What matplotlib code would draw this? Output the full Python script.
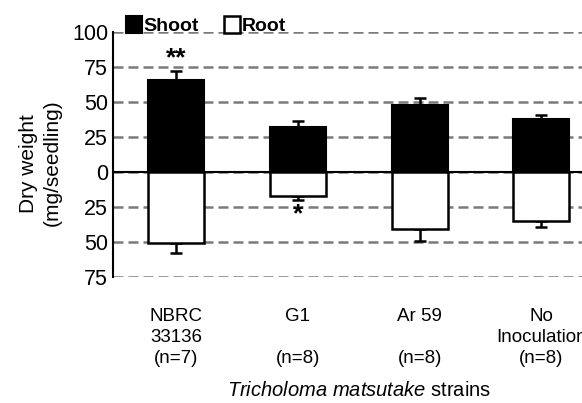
import matplotlib
matplotlib.use("Agg")
import matplotlib.pyplot as plt
import numpy as np

plt.rcParams['font.family'] = ['Liberation Sans', 'DejaVu Sans']
plt.rcParams['mathtext.fontset'] = 'custom'
plt.rcParams['mathtext.it'] = 'Liberation Sans:italic'
plt.rcParams['mathtext.rm'] = 'Liberation Sans'

# Data (mg/seedling)
strains = ["NBRC\n33136\n(n=7)", "G1\n\n(n=8)", "Ar 59\n\n(n=8)", "No\nInoculation\n(n=8)"]
shoot = [66, 32, 48, 38]
shoot_err = [6, 4.5, 5, 3]
root = [51, 17, 41, 35]
root_err = [7, 3, 8.5, 4]
signif = ["**", "", "", ""]        # above shoot bars
signif_root = ["", "*", "", ""]    # below root bars
yticks = [100, 75, 50, 25, 0, -25, -50, -75]
yticklabels = ["100", "75", "50", "25", "0", "25", "50", "75"]

x = np.arange(len(strains))
width = 0.46

fig = plt.figure(figsize=(5.82, 4.03), dpi=100)
ax = fig.add_axes([0.194, 0.3127, 0.845, 0.6079])

# dashed grid lines (0 gets a solid line instead)
ax.set_yticks(yticks)
ax.set_yticklabels(yticklabels, fontsize=15.5)
ax.yaxis.grid(True, color='#7a7a7a', linewidth=1.8, linestyle=(0, (4, 2)), zorder=0)
ax.set_axisbelow(True)
ax.axhline(0, color='black', linewidth=1.5, zorder=2)

b1 = ax.bar(x, shoot, width, color='black', edgecolor='black', linewidth=1.5,
            label='Shoot', zorder=3)
b2 = ax.bar(x, [-r for r in root], width, color='white', edgecolor='black',
            linewidth=1.8, label='Root', zorder=3)

# one-sided error bars
ax.errorbar(x, shoot, yerr=[np.zeros(len(x)), shoot_err], fmt='none', ecolor='black',
            elinewidth=1.8, capsize=4.3, capthick=1.8, zorder=2.5)
ax.errorbar(x, [-r for r in root], yerr=[root_err, np.zeros(len(x))], fmt='none',
            ecolor='black', elinewidth=1.8, capsize=4.3, capthick=1.8, zorder=2.5)

for i in range(len(x)):
    if signif[i]:
        ax.text(x[i], shoot[i] + shoot_err[i] + 0.5, signif[i], ha='center', va='bottom',
                fontsize=19, fontweight='bold')
    if signif_root[i]:
        ax.text(x[i], -root[i] - root_err[i] - 2, signif_root[i], ha='center', va='top',
                fontsize=19, fontweight='bold')

ax.set_ylim(-75, 100)
ax.set_xlim(-0.52, 3.52)
ax.set_xticks(x)
ax.set_xticklabels(strains, fontsize=13.5, linespacing=1.3)
ax.tick_params(axis='x', length=0, pad=22.5)
ax.tick_params(axis='y', length=0, pad=3.5)

for s in ['top', 'right', 'bottom']:
    ax.spines[s].set_visible(False)
ax.spines['left'].set_linewidth(1.5)

ax.set_ylabel("Dry weight\n(mg/seedling)", fontsize=15, linespacing=1.35)
ax.yaxis.set_label_coords(-0.104, 0.465)

ax.set_xlabel(r"$\it{Tricholoma\ matsutake}$ strains", fontsize=14.5)
ax.xaxis.set_label_coords(0.5, -0.424)

leg = ax.legend(handles=[b1, b2], loc='lower left', bbox_to_anchor=(0.01, 0.955),
                ncol=2, frameon=False, handlelength=0.85, handleheight=0.9,
                handletextpad=0.05, columnspacing=1.3, borderaxespad=0,
                prop={'weight': 'bold', 'size': 14})

fig.savefig("out.png", dpi=100)
